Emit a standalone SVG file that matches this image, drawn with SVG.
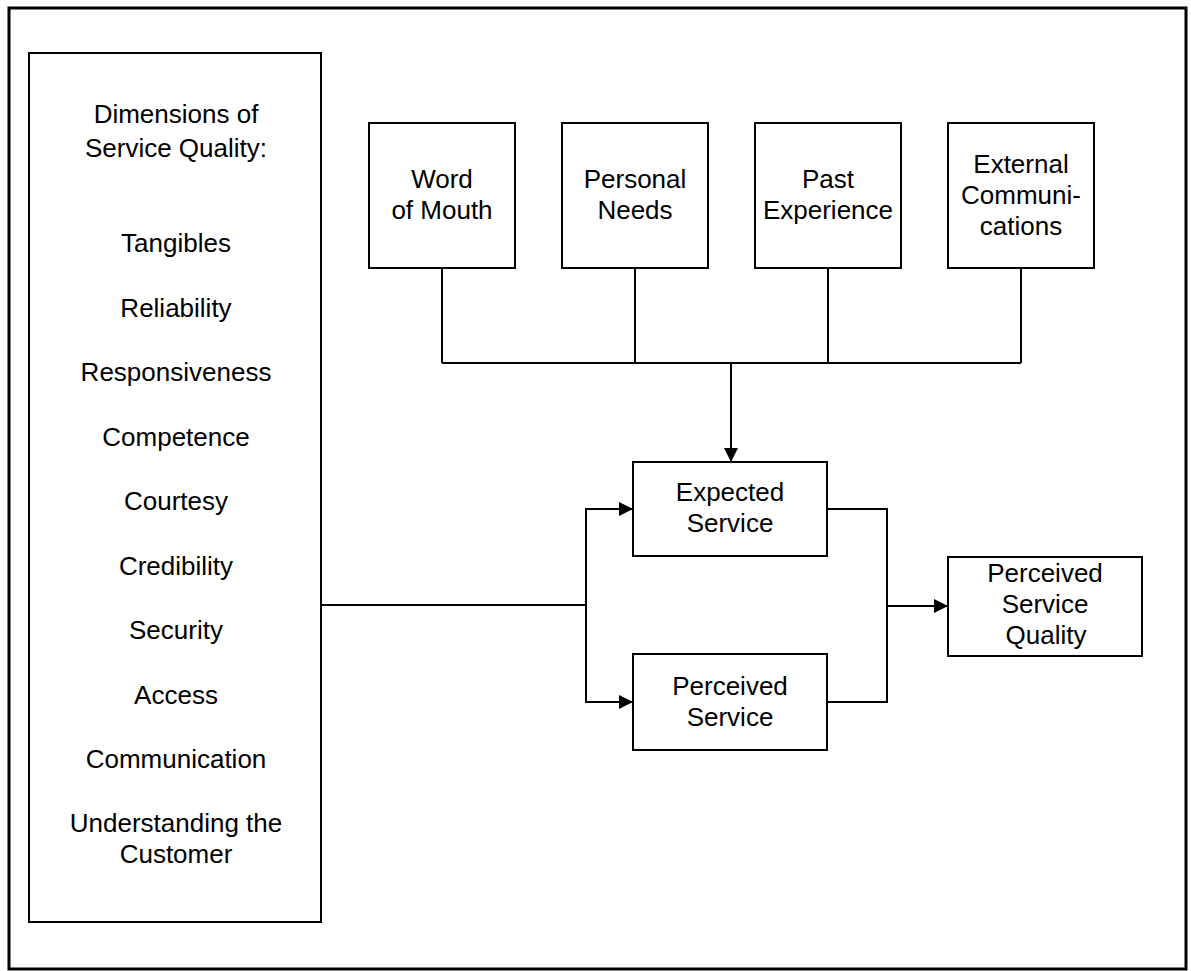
<svg xmlns="http://www.w3.org/2000/svg" width="1191" height="971" viewBox="0 0 1191 971">
  <style>
    .box { fill: #ffffff; stroke: #000000; stroke-width: 2; }
    .frame { fill: #ffffff; stroke: #000000; stroke-width: 3; }
    .wire { fill: none; stroke: #000000; stroke-width: 2; }
    text { font-family: "Liberation Sans", Arial, sans-serif; font-size: 26px; fill: #000000; text-anchor: middle; }
  </style>
  <defs>
    <marker id="arrow" viewBox="0 0 14 14" refX="13" refY="7" markerWidth="14" markerHeight="14" markerUnits="userSpaceOnUse" orient="auto">
      <path d="M0,0 L14,7 L0,14 Z" fill="#000000"/>
    </marker>
  </defs>

  <!-- outer border -->
  <rect class="frame" x="9" y="8" width="1177" height="961"/>

  <!-- dimensions list -->
  <g id="dimensions">
    <rect class="box" x="29" y="53" width="292" height="869"/>
    <text x="176" y="123">Dimensions of</text>
    <text x="176" y="157">Service Quality:</text>
    <text x="176" y="252">Tangibles</text>
    <text x="176" y="317">Reliability</text>
    <text x="176" y="381">Responsiveness</text>
    <text x="176" y="446">Competence</text>
    <text x="176" y="510">Courtesy</text>
    <text x="176" y="575">Credibility</text>
    <text x="176" y="639">Security</text>
    <text x="176" y="704">Access</text>
    <text x="176" y="768">Communication</text>
    <text x="176" y="832">Understanding the</text>
    <text x="176" y="863">Customer</text>
  </g>

  <!-- expectation sources -->
  <g id="word-of-mouth">
    <rect class="box" x="369" y="123" width="146" height="145"/>
    <text x="442" y="188">Word</text>
    <text x="442" y="219">of Mouth</text>
  </g>
  <g id="personal-needs">
    <rect class="box" x="562" y="123" width="146" height="145"/>
    <text x="635" y="188">Personal</text>
    <text x="635" y="219">Needs</text>
  </g>
  <g id="past-experience">
    <rect class="box" x="755" y="123" width="146" height="145"/>
    <text x="828" y="188">Past</text>
    <text x="828" y="219">Experience</text>
  </g>
  <g id="external-communications">
    <rect class="box" x="948" y="123" width="146" height="145"/>
    <text x="1021" y="173">External</text>
    <text x="1021" y="204">Communi-</text>
    <text x="1021" y="235">cations</text>
  </g>

  <!-- service boxes -->
  <g id="expected-service">
    <rect class="box" x="633" y="462" width="194" height="94"/>
    <text x="730" y="501">Expected</text>
    <text x="730" y="532">Service</text>
  </g>
  <g id="perceived-service">
    <rect class="box" x="633" y="654" width="194" height="96"/>
    <text x="730" y="695">Perceived</text>
    <text x="730" y="726">Service</text>
  </g>
  <g id="perceived-service-quality">
    <rect class="box" x="948" y="557" width="194" height="99"/>
    <text x="1045" y="582">Perceived</text>
    <text x="1045" y="613">Service</text>
    <text x="1046" y="644">Quality</text>
  </g>

  <!-- connectors -->
  <g id="connectors">
    <!-- sources joined on a bus -->
    <path class="wire" d="M442,268 V363 M635,268 V363 M828,268 V363 M1021,268 V363 M442,363 H1021"/>
    <path class="wire" d="M731,363 V461" marker-end="url(#arrow)"/>
    <!-- dimensions feed both service boxes -->
    <path class="wire" d="M321,605 H586"/>
    <path class="wire" d="M586,605 V509 H632" marker-end="url(#arrow)"/>
    <path class="wire" d="M586,605 V702 H632" marker-end="url(#arrow)"/>
    <!-- both service boxes merge into perceived quality -->
    <path class="wire" d="M827,509 H887 V702 H827"/>
    <path class="wire" d="M887,606 H947" marker-end="url(#arrow)"/>
  </g>
</svg>
